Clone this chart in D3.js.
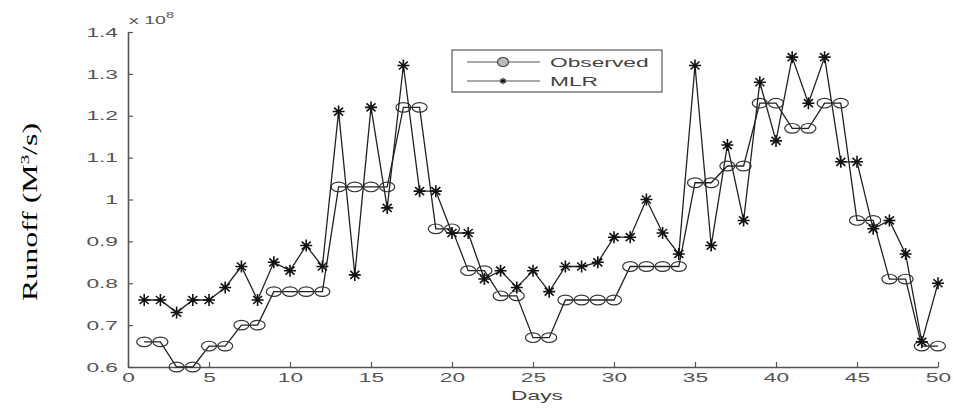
<!DOCTYPE html>
<html>
<head>
<meta charset="utf-8">
<script src="https://cdn.jsdelivr.net/npm/d3@7"></script>
<style>
  body { margin: 0; background: #fff; }
  .tick text { font-family: "Liberation Sans", Arial, sans-serif; font-size: 13px; fill: #555; }
</style>
</head>
<body>
<div id="chart"></div>
<script>
// days 1..50
var days = d3.range(1, 51);

// observed runoff (x 10^8)
var observed = [0.66, 0.66, 0.60, 0.60, 0.65, 0.65, 0.70, 0.70, 0.78, 0.78,
  0.78, 0.78, 1.03, 1.03, 1.03, 1.03, 1.22, 1.22, 0.93, 0.93,
  0.83, 0.83, 0.77, 0.77, 0.67, 0.67, 0.76, 0.76, 0.76, 0.76,
  0.84, 0.84, 0.84, 0.84, 1.04, 1.04, 1.08, 1.08, 1.23, 1.23,
  1.17, 1.17, 1.23, 1.23, 0.95, 0.95, 0.81, 0.81, 0.65, 0.65];

// MLR model
var mlr = [0.76, 0.76, 0.73, 0.76, 0.76, 0.79, 0.84, 0.76, 0.85, 0.83,
  0.89, 0.84, 1.21, 0.82, 1.22, 0.98, 1.32, 1.02, 1.02, 0.92,
  0.92, 0.81, 0.83, 0.79, 0.83, 0.78, 0.84, 0.84, 0.85, 0.91,
  0.91, 1.00, 0.92, 0.87, 1.32, 0.89, 1.13, 0.95, 1.28, 1.14,
  1.34, 1.23, 1.34, 1.09, 1.09, 0.93, 0.95, 0.87, 0.66, 0.80];

var xTicks = [0, 5, 10, 15, 20, 25, 30, 35, 40, 45, 50];
var yTicks = [0.6, 0.7, 0.8, 0.9, 1.0, 1.1, 1.2, 1.3, 1.4];

var width = 957, height = 410;
var stretch = 1.75; // the original picture is stretched sideways

var svg = d3.select("#chart").append("svg")
  .attr("width", width)
  .attr("height", height);

var x = d3.scaleLinear().domain([0, 50]).range([128, 938]);
var y = d3.scaleLinear().domain([0.6, 1.4]).range([367, 32]);

//axes, ticks point inward like matlab
var yAxis = svg.append("g")
  .attr("transform", "translate(" + x(0) + ",0)")
  .call(d3.axisLeft(y).tickValues(yTicks).tickSizeInner(-5).tickSizeOuter(0)
    .tickFormat(function(d) { return +d.toFixed(1); }));
yAxis.selectAll(".tick text")
  .attr("x", 0)
  .attr("transform", "translate(-10,0) scale(" + stretch + ",1)");

var xAxis = svg.append("g")
  .attr("transform", "translate(0," + y(0.6) + ")")
  .call(d3.axisBottom(x).tickValues(xTicks).tickSizeInner(-5).tickSizeOuter(0).tickPadding(6));
xAxis.selectAll(".tick text")
  .attr("transform", "scale(" + stretch + ",1)");

svg.selectAll(".domain").attr("stroke", "#555").attr("stroke-width", 1.6);
svg.selectAll(".tick line").attr("stroke", "#555").attr("stroke-width", 1.2);

// exponent label
var ex = svg.append("text")
  .attr("transform", "translate(" + (x(0) + 1) + ",24) scale(1.7,1)")
  .attr("font-family", "Liberation Sans, Arial, sans-serif")
  .attr("font-size", 11.5)
  .attr("fill", "#555")
  .text("x 10");
ex.append("tspan").attr("dy", -6).attr("font-size", 8.5).text("8");

// axis titles
svg.append("text")
  .attr("transform", "translate(" + ((x(0) + x(50)) / 2 + 4) + ",400) scale(" + stretch + ",1)")
  .attr("text-anchor", "middle")
  .attr("font-family", "Liberation Sans, Arial, sans-serif")
  .attr("font-size", 13)
  .attr("fill", "#444")
  .text("Days");

var yt = svg.append("text")
  .attr("transform", "translate(37,212) rotate(-90) scale(1.45,1)")
  .attr("text-anchor", "middle")
  .attr("font-family", "Liberation Serif, Times New Roman, serif")
  .attr("font-size", 22)
  .attr("fill", "#000")
  .text("Runoff (M");
yt.append("tspan").attr("dy", -8).attr("font-size", 13).text("3");
yt.append("tspan").attr("dy", 8).text("/s)");

var line = d3.line()
  .x(function(d, i) { return x(days[i]); })
  .y(function(d) { return y(d); });

var starPath = "M-6,0H6M0,-6V6M-4.5,-4L4.5,4M-4.5,4L4.5,-4";

function drawSeries(values, marker) {
  var g = svg.append("g");
  g.append("path")
    .datum(values)
    .attr("fill", "none")
    .attr("stroke", "#222")
    .attr("stroke-width", 1.3)
    .attr("d", line);
  if (marker == "circle") {
    g.selectAll("ellipse")
      .data(values)
      .enter().append("ellipse")
      .attr("cx", function(d, i) { return x(days[i]); })
      .attr("cy", function(d) { return y(d); })
      .attr("rx", 7.5)
      .attr("ry", 4.8)
      .attr("fill", "none")
      .attr("stroke", "#333")
      .attr("stroke-width", 1.2);
  } else {
    g.selectAll(".star")
      .data(values)
      .enter().append("path")
      .attr("class", "star")
      .attr("transform", function(d, i) { return "translate(" + x(days[i]) + "," + y(d) + ")"; })
      .attr("d", starPath)
      .attr("stroke", "#111")
      .attr("stroke-width", 1.6);
  }
}

drawSeries(observed, "circle");
drawSeries(mlr, "star");

// legend
var lg = svg.append("g").attr("transform", "translate(452,50)");
lg.append("rect")
  .attr("width", 210).attr("height", 42)
  .attr("fill", "#fff").attr("stroke", "#666").attr("stroke-width", 1.3);

var legendItems = [{name: "Observed", marker: "circle", dy: 12}, {name: "MLR", marker: "star", dy: 31}];
legendItems.forEach(function(it) {
  lg.append("line")
    .attr("x1", 15).attr("x2", 88)
    .attr("y1", it.dy).attr("y2", it.dy)
    .attr("stroke", "#555").attr("stroke-width", 1.2);
  if (it.marker == "circle") {
    lg.append("ellipse").attr("cx", 51).attr("cy", it.dy).attr("rx", 5.5).attr("ry", 4.5)
      .attr("fill", "#bbb").attr("stroke", "#444").attr("stroke-width", 1.2);
  } else {
    lg.append("path").attr("transform", "translate(51," + it.dy + ") scale(0.55)")
      .attr("d", starPath).attr("stroke", "#111").attr("stroke-width", 2);
  }
  lg.append("text")
    .attr("transform", "translate(98," + (it.dy + 5) + ") scale(" + stretch + ",1)")
    .attr("font-family", "Liberation Sans, Arial, sans-serif")
    .attr("font-size", 13)
    .attr("fill", "#444")
    .text(it.name);
});
</script>
</body>
</html>
